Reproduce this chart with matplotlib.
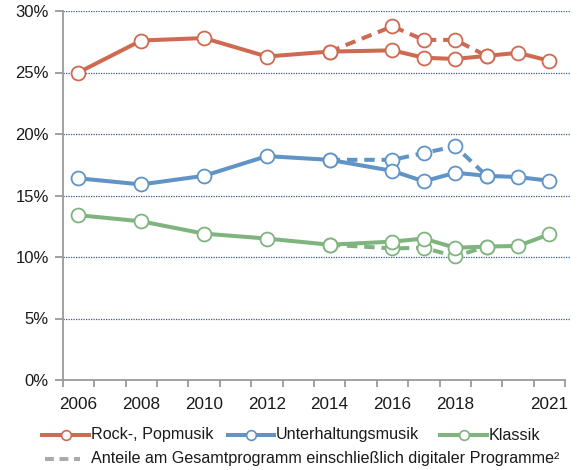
import matplotlib
matplotlib.use("Agg")
import matplotlib.pyplot as plt
from matplotlib.lines import Line2D
from matplotlib.ticker import FixedLocator, FuncFormatter

plt.rcParams['font.family'] = ['Liberation Sans', 'DejaVu Sans']

years = [2006, 2008, 2010, 2012, 2014, 2016, 2017, 2018, 2019, 2020, 2021]
rock = [25.0, 27.6, 27.8, 26.3, 26.7, 26.8, 26.2, 26.1, 26.35, 26.6, 25.95]
unterhaltung = [16.4, 15.9, 16.6, 18.2, 17.9, 17.0, 16.15, 16.85, 16.6, 16.5, 16.2]
klassik = [13.4, 12.9, 11.9, 11.5, 11.0, 11.25, 11.5, 10.75, 10.85, 10.9, 11.85]

dig_years = [2014, 2016, 2017, 2018, 2019]
rock_dig = [26.7, 28.75, 27.65, 27.65, 26.35]
unterhaltung_dig = [17.9, 17.9, 18.45, 19.0, 16.6]
klassik_dig = [11.0, 10.7, 10.75, 10.05, 10.85]

xtick_years = [2006, 2008, 2010, 2012, 2014, 2016, 2018, 2021]
yticks = [0, 5, 10, 15, 20, 25, 30]

c_rock = '#cf6a52'
c_unt = '#6094c6'
c_kla = '#80b47f'
c_grey = '#aaaaaa'

fig = plt.figure(figsize=(5.77, 4.70), dpi=100)
ax = fig.add_axes([62.7/577, 90/470, (571-62.7)/577, 369/470])

lw = 2.9
ms = 10
mew = 1.3
dash = (0, (2.6, 1.7))

series = [(rock, rock_dig, c_rock), (unterhaltung, unterhaltung_dig, c_unt), (klassik, klassik_dig, c_kla)]
for vals, dvals, col in series:
    ax.plot(dig_years, dvals, color=col, lw=lw, ls=dash, marker='o', ms=ms,
            mfc='white', mec=col, mew=mew, zorder=3, clip_on=False)
    ax.plot(years, vals, color=col, lw=lw, marker='o', ms=ms,
            mfc='white', mec=col, mew=mew, zorder=4, clip_on=False, solid_capstyle='round')

ax.set_xlim(2005.5, 2005.5 + (571-62.7)/31.4)
ax.set_ylim(0, 30)

for s in ['top', 'right']:
    ax.spines[s].set_visible(False)
for s in ['left', 'bottom']:
    ax.spines[s].set_color('#9a9a9a')
    ax.spines[s].set_linewidth(1.3)
ax.spines['bottom'].set_bounds(2005.5, 2021.5)

ax.set_yticks(yticks)
ax.yaxis.set_major_formatter(FuncFormatter(lambda v, p: f"{int(v)}%"))
ax.tick_params(axis='y', length=6, width=1.3, color='#9a9a9a', pad=4,
               labelsize=12, labelcolor='#1a1a1a')
ax.set_xticks(xtick_years)
ax.set_xticklabels([str(y) for y in xtick_years])
ax.tick_params(axis='x', which='major', length=0, pad=12, labelsize=12.3, labelcolor='#1a1a1a')
ax.xaxis.set_minor_locator(FixedLocator([2005.5 + i for i in range(17)]))
ax.tick_params(axis='x', which='minor', length=5, width=1.3, color='#9a9a9a')

for yv in yticks[1:]:
    ax.axhline(yv, color='#3d5a7a', lw=0.9, ls=(0, (1, 1)), zorder=1)

# legend
def handle(x0, x1, y, col, ls='-', marker=True):
    yf = (470 - y) / 470
    fig.add_artist(Line2D([x0/577, x1/577], [yf, yf], color=col, lw=lw, ls=ls,
                          transform=fig.transFigure))
    if marker:
        fig.add_artist(Line2D([(x0+x1)/2/577], [yf], color=col, marker='o', ms=7,
                              mfc='white', mec=col, mew=1.2, transform=fig.transFigure))

def label(x, y, txt):
    fig.text(x/577, (470 - y)/470, txt, fontsize=11.6, color='#1a1a1a', va='center', ha='left')

y1, y2 = 435, 459
handle(42, 89, y1, c_rock)
label(91, y1, 'Rock-, Popmusik')
handle(228, 274, y1, c_unt)
label(276, y1, 'Unterhaltungsmusik')
handle(440, 487, y1, c_kla)
label(489, y1, 'Klassik')
handle(45, 80, y2, c_grey, ls=(0, (2.2, 1.4)), marker=False)
label(91, y2, 'Anteile am Gesamtprogramm einschließlich digitaler Programme²')

fig.savefig('out.png', dpi=100)
